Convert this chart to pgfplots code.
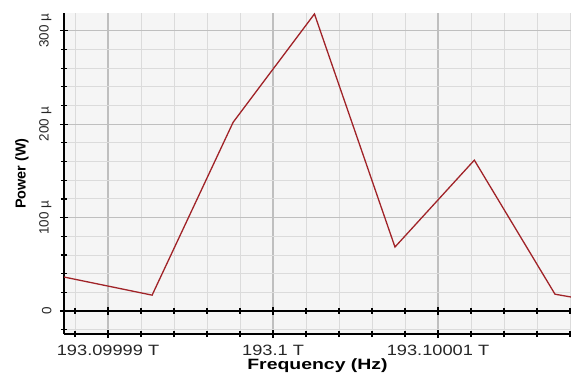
\documentclass[border=0pt]{standalone}
\usepackage{pgfplots}
\pgfplotsset{compat=1.18}
\usepackage{fontspec}
\setmainfont{Liberation Sans}
\newfontfamily\xtfont[FakeStretch=1.22]{Liberation Sans}
\newfontfamily\xlfont[FakeStretch=1.3]{Liberation Sans}
\definecolor{trace}{RGB}{160,35,40}
\begin{document}
\begin{tikzpicture}[x=1bp,y=1bp]
\begin{axis}[
  at={(0,0)}, anchor=south west,
  scale only axis, width=507bp, height=321bp,
  xmin=-12.67, xmax=18.06, ymin=-24.6, ymax=319,
  axis lines=left,
  axis line style={-, line width=1.6bp, black},
  xtick={-10,0,10},
  xticklabels={193.09999 T, 193.1 T, 193.10001 T},
  minor xtick={-12,-8,-6,-4,-2,2,4,6,8,12,14,16,18},
  ytick={0,100,200,300},
  yticklabels={0, 100 µ, 200 µ, 300 µ},
  minor ytick={-20,20,40,60,80,120,140,160,180,220,240,260,280},
  tick align=center,
  major tick length=8bp, minor tick length=6bp,
  every tick/.style={black, line width=1.2bp},
  grid=both,
  major grid style={black!25, line width=1.2bp},
  minor grid style={black!14, line width=0.9bp},
  axis background/.style={fill=black!4},
  xticklabel style={yshift=-3.5bp, font=\xtfont\fontsize{15}{18}\selectfont, text=black!85},
  yticklabel style={xshift=-5bp, rotate=90, anchor=south, font=\fontsize{13.5}{16}\selectfont, text=black!85},
  xlabel={Frequency (Hz)},
  ylabel={Power (W)},
  xlabel style={at={(axis description cs:0.5,-0.112)}, anchor=base, font=\xlfont\bfseries\fontsize{15}{18}\selectfont},
  ylabel style={at={(axis description cs:-0.083,0.5)}, anchor=center, font=\bfseries\fontsize{14.5}{17}\selectfont},
]
\addplot[trace, line width=1.3bp] coordinates {
  (-12.67,36.4) (-7.33,17) (-2.42,202) (2.51,318) (7.39,68.5) (12.2,161.5) (17.09,18) (18.06,15)
};
\addplot[black, line width=1.6bp, forget plot] coordinates {(-12.67,0) (18.06,0)};
\addplot[only marks, black, mark=|, mark size=3bp, mark options={line width=1.2bp}, forget plot] coordinates {
  (-12,0) (-8,0) (-6,0) (-4,0) (-2,0) (2,0) (4,0) (6,0) (8,0) (12,0) (14,0) (16,0) (18,0)
};
\addplot[only marks, black, mark=|, mark size=4bp, mark options={line width=1.2bp}, forget plot] coordinates {
  (-10,0) (0,0) (10,0)
};
\end{axis}
\pgfresetboundingbox
\path (-64,-42) rectangle (507,334);
\end{tikzpicture}
\end{document}
